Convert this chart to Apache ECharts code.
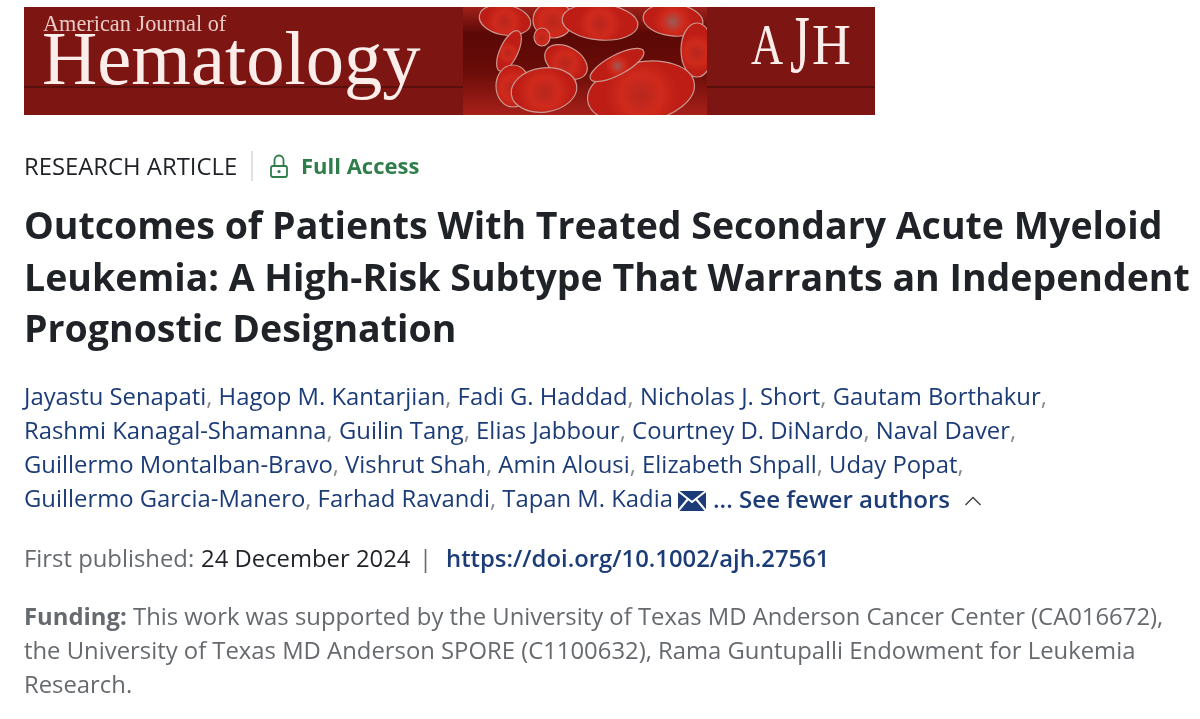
<!DOCTYPE html>
<html>
<head>
<meta charset="utf-8">
<title>AJH article</title>
<style>
  html, body { margin: 0; padding: 0; background: #fff; }
  #main { width: 1200px; height: 719px; }
</style>
<script src="https://cdn.jsdelivr.net/npm/echarts@6/dist/echarts.min.js"></script>
</head>
<body>
<div id="main"></div>
<script>
// page texts
var journalSmall = 'American Journal of';
var journalBig = 'Hematology';
var journalShort = ['A', 'J', 'H'];
var articleType = 'RESEARCH ARTICLE';
var accessLabel = 'Full Access';
var titleLines = [
  'Outcomes of Patients With Treated Secondary Acute Myeloid',
  'Leukemia: A High-Risk Subtype That Warrants an Independent',
  'Prognostic Designation'
];
var authorLines = [
  ['Jayastu Senapati', 'Hagop M. Kantarjian', 'Fadi G. Haddad', 'Nicholas J. Short', 'Gautam Borthakur,'],
  ['Rashmi Kanagal-Shamanna', 'Guilin Tang', 'Elias Jabbour', 'Courtney D. DiNardo', 'Naval Daver,'],
  ['Guillermo Montalban-Bravo', 'Vishrut Shah', 'Amin Alousi', 'Elizabeth Shpall', 'Uday Popat,'],
  ['Guillermo Garcia-Manero', 'Farhad Ravandi', 'Tapan M. Kadia']
];
var fewerAuthors = '... See fewer authors';
var publishedLabel = 'First published:';
var publishedDate = '24 December 2024';
var doiLink = 'https://doi.org/10.1002/ajh.27561';
var fundingLabel = 'Funding:';
var fundingLines = [
  'This work was supported by the University of Texas MD Anderson Cancer Center (CA016672),',
  'the University of Texas MD Anderson SPORE (C1100632), Rama Guntupalli Endowment for Leukemia',
  'Research.'
];

var SANS = '"Open Sans", sans-serif';
var BLUE = '#1c3c78';
var GREY = '#666a6e';
var INK = '#1f2226';
var GREEN = '#2e7d4a';
var MAROON = '#7d1513';
var PALE = '#fbeeea';
var TEXT_SIZE = 23.85;

var myChart = echarts.init(document.getElementById('main'));

function label(text, x, y, size, weight, fill) {
  return {
    type: 'text',
    style: {
      text: text, x: x, y: y, fill: fill,
      font: weight + ' ' + size + 'px ' + SANS,
      textVerticalAlign: 'middle'
    }
  };
}

// serif banner letters, sx squeezes them sideways
function serif(text, x, y, size, fill, sx) {
  return {
    type: 'text',
    x: x, y: y, scaleX: sx || 1,
    style: {
      text: text, x: 0, y: 0, fill: fill,
      font: size + 'px "Liberation Serif", serif',
      textVerticalAlign: 'middle'
    }
  };
}

// one red blood cell of the banner
function cell(cx, cy, rx, ry, deg, pale) {
  return {
    type: 'ellipse',
    x: cx, y: cy, rotation: deg * Math.PI / 180,
    shape: { cx: 0, cy: 0, rx: rx, ry: ry },
    style: {
      fill: new echarts.graphic.RadialGradient(0.5, 0.55, 0.6, [
        { offset: 0, color: pale ? '#9c5a55' : '#b8261c' },
        { offset: 0.55, color: '#cf2a1c' },
        { offset: 1, color: '#bd1d15' }
      ]),
      stroke: '#c9978f', lineWidth: 1.2
    }
  };
}

// one author line: blue names, grey commas
function authorText(names) {
  return names.map(function (n, i) {
    var end = n.charAt(n.length - 1) === ',';
    var name = end ? n.slice(0, -1) : n;
    return '{n|' + name + '}' + (end || i < names.length - 1 ? '{c|,}' : '') + (i < names.length - 1 ? '{n| }' : '');
  }).join('');
}

function authorLine(names, y) {
  return {
    type: 'text',
    style: {
      text: authorText(names), x: 24, y: y,
      textVerticalAlign: 'middle',
      rich: {
        n: { fill: BLUE, font: '400 ' + TEXT_SIZE + 'px ' + SANS },
        c: { fill: '#8a8d90', font: '400 ' + TEXT_SIZE + 'px ' + SANS }
      }
    }
  };
}

var cells = [
  [505, 20, 26, 15, -10], [553, 20, 20, 18, 0], [542, 37, 8, 9, 0],
  [509, 51, 9, 22, -25], [600, 22, 38, 18, -5], [673, 20, 30, 16, -6, true],
  [697, 50, 16, 27, 0], [566, 62, 23, 15, -30],
  [513, 86, 17, 21, 0], [544, 90, 33, 22, 8], [641, 92, 54, 30, 10],
  [617, 65, 30, 10, 28, true]
];

var banner = [
  { type: 'rect', shape: { x: 24, y: 7, width: 851, height: 108 }, style: { fill: MAROON } },
  { type: 'rect', shape: { x: 463, y: 7, width: 244, height: 108 }, style: {
      fill: new echarts.graphic.LinearGradient(0, 0, 0, 1, [
        { offset: 0, color: '#a0201a' }, { offset: 0.25, color: '#5a0806' },
        { offset: 0.6, color: '#6a0c08' }, { offset: 1, color: '#a8201a' }
      ]) } }
].concat(cells.map(function (c) { return cell(c[0], c[1], c[2], c[3], c[4], c[5]); })).concat([
  // masks that keep the cells inside the picture part of the banner
  { type: 'rect', shape: { x: 440, y: 0, width: 290, height: 7 }, style: { fill: '#fff' } },
  { type: 'rect', shape: { x: 440, y: 115, width: 290, height: 12 }, style: { fill: '#fff' } },
  { type: 'rect', shape: { x: 707, y: 7, width: 168, height: 108 }, style: { fill: MAROON } },
  { type: 'rect', shape: { x: 440, y: 7, width: 23, height: 108 }, style: { fill: MAROON } },
  { type: 'line', shape: { x1: 24, y1: 87, x2: 463, y2: 87 }, style: { stroke: '#4e0f0c', lineWidth: 1.5 } },
  { type: 'line', shape: { x1: 707, y1: 87, x2: 875, y2: 87 }, style: { stroke: '#4e0f0c', lineWidth: 1.5 } },
  serif(journalSmall, 43, 25, 22.3, '#e8c9c4'),
  serif(journalBig, 42, 64, 76.6, PALE),
  serif(journalShort[0], 751, 49, 57, PALE, 0.78),
  serif(journalShort[1], 790, 50, 82, PALE, 0.62),
  serif(journalShort[2], 812, 49, 56, PALE, 0.96)
]);

var lockIcon = [
  { type: 'rect', shape: { x: 271, y: 166, width: 16, height: 11, r: 2 }, style: { fill: 'none', stroke: GREEN, lineWidth: 1.8 } },
  { type: 'arc', shape: { cx: 279, cy: 160, r: 4.5, startAngle: Math.PI, endAngle: 0, clockwise: true }, style: { fill: 'none', stroke: GREEN, lineWidth: 1.8 } },
  { type: 'line', shape: { x1: 274.5, y1: 160, x2: 274.5, y2: 166 }, style: { stroke: GREEN, lineWidth: 1.8 } },
  { type: 'line', shape: { x1: 283.5, y1: 160, x2: 283.5, y2: 166 }, style: { stroke: GREEN, lineWidth: 1.8 } },
  { type: 'circle', shape: { cx: 279, cy: 171.5, r: 1.6 }, style: { fill: GREEN } }
];

var envelopeIcon = [
  { type: 'rect', shape: { x: 678, y: 491, width: 28, height: 20 }, style: { fill: BLUE } },
  { type: 'polyline', shape: { points: [[678, 491], [692, 502], [706, 491]] }, style: { fill: 'none', stroke: '#fff', lineWidth: 2 } },
  { type: 'polyline', shape: { points: [[678, 511], [688, 499]] }, style: { fill: 'none', stroke: '#fff', lineWidth: 2 } },
  { type: 'polyline', shape: { points: [[706, 511], [696, 499]] }, style: { fill: 'none', stroke: '#fff', lineWidth: 2 } }
];

var body = [
  label(articleType, 24, 168, TEXT_SIZE, 400, INK),
  { type: 'line', shape: { x1: 252, y1: 151, x2: 252, y2: 181 }, style: { stroke: '#d4d6d8', lineWidth: 1.5 } },
  label(accessLabel, 301, 168, 22, 700, GREEN),
  label(publishedLabel, 24, 560, TEXT_SIZE, 400, GREY),
  label(publishedDate, 201, 560, TEXT_SIZE, 400, INK),
  label('|', 419, 560, TEXT_SIZE, 400, GREY),
  label(doiLink, 446, 560, TEXT_SIZE, 600, BLUE),
  label(fewerAuthors, 713, 501, 24.1, 600, BLUE),
  { type: 'polyline', shape: { points: [[965.5, 505], [973, 497.5], [980.5, 505]] }, style: { fill: 'none', stroke: '#3a3d40', lineWidth: 1.3 } },
  label(fundingLabel, 24, 618, TEXT_SIZE, 700, GREY),
  label(fundingLines[0], 133, 618, TEXT_SIZE, 400, GREY),
  label(fundingLines[1], 24, 652, TEXT_SIZE, 400, GREY),
  label(fundingLines[2], 24, 686, TEXT_SIZE, 400, GREY)
];

var titleY = [228, 280, 331];
titleLines.forEach(function (t, i) { body.push(label(t, 24, titleY[i], 37.5, 700, INK)); });

var authorY = [398, 432, 466, 500];
authorLines.forEach(function (names, i) { body.push(authorLine(names, authorY[i])); });

var option = {
  backgroundColor: '#ffffff',
  animation: false,
  graphic: { elements: banner.concat(lockIcon, envelopeIcon, body) }
};
myChart.setOption(option);
</script>
</body>
</html>
